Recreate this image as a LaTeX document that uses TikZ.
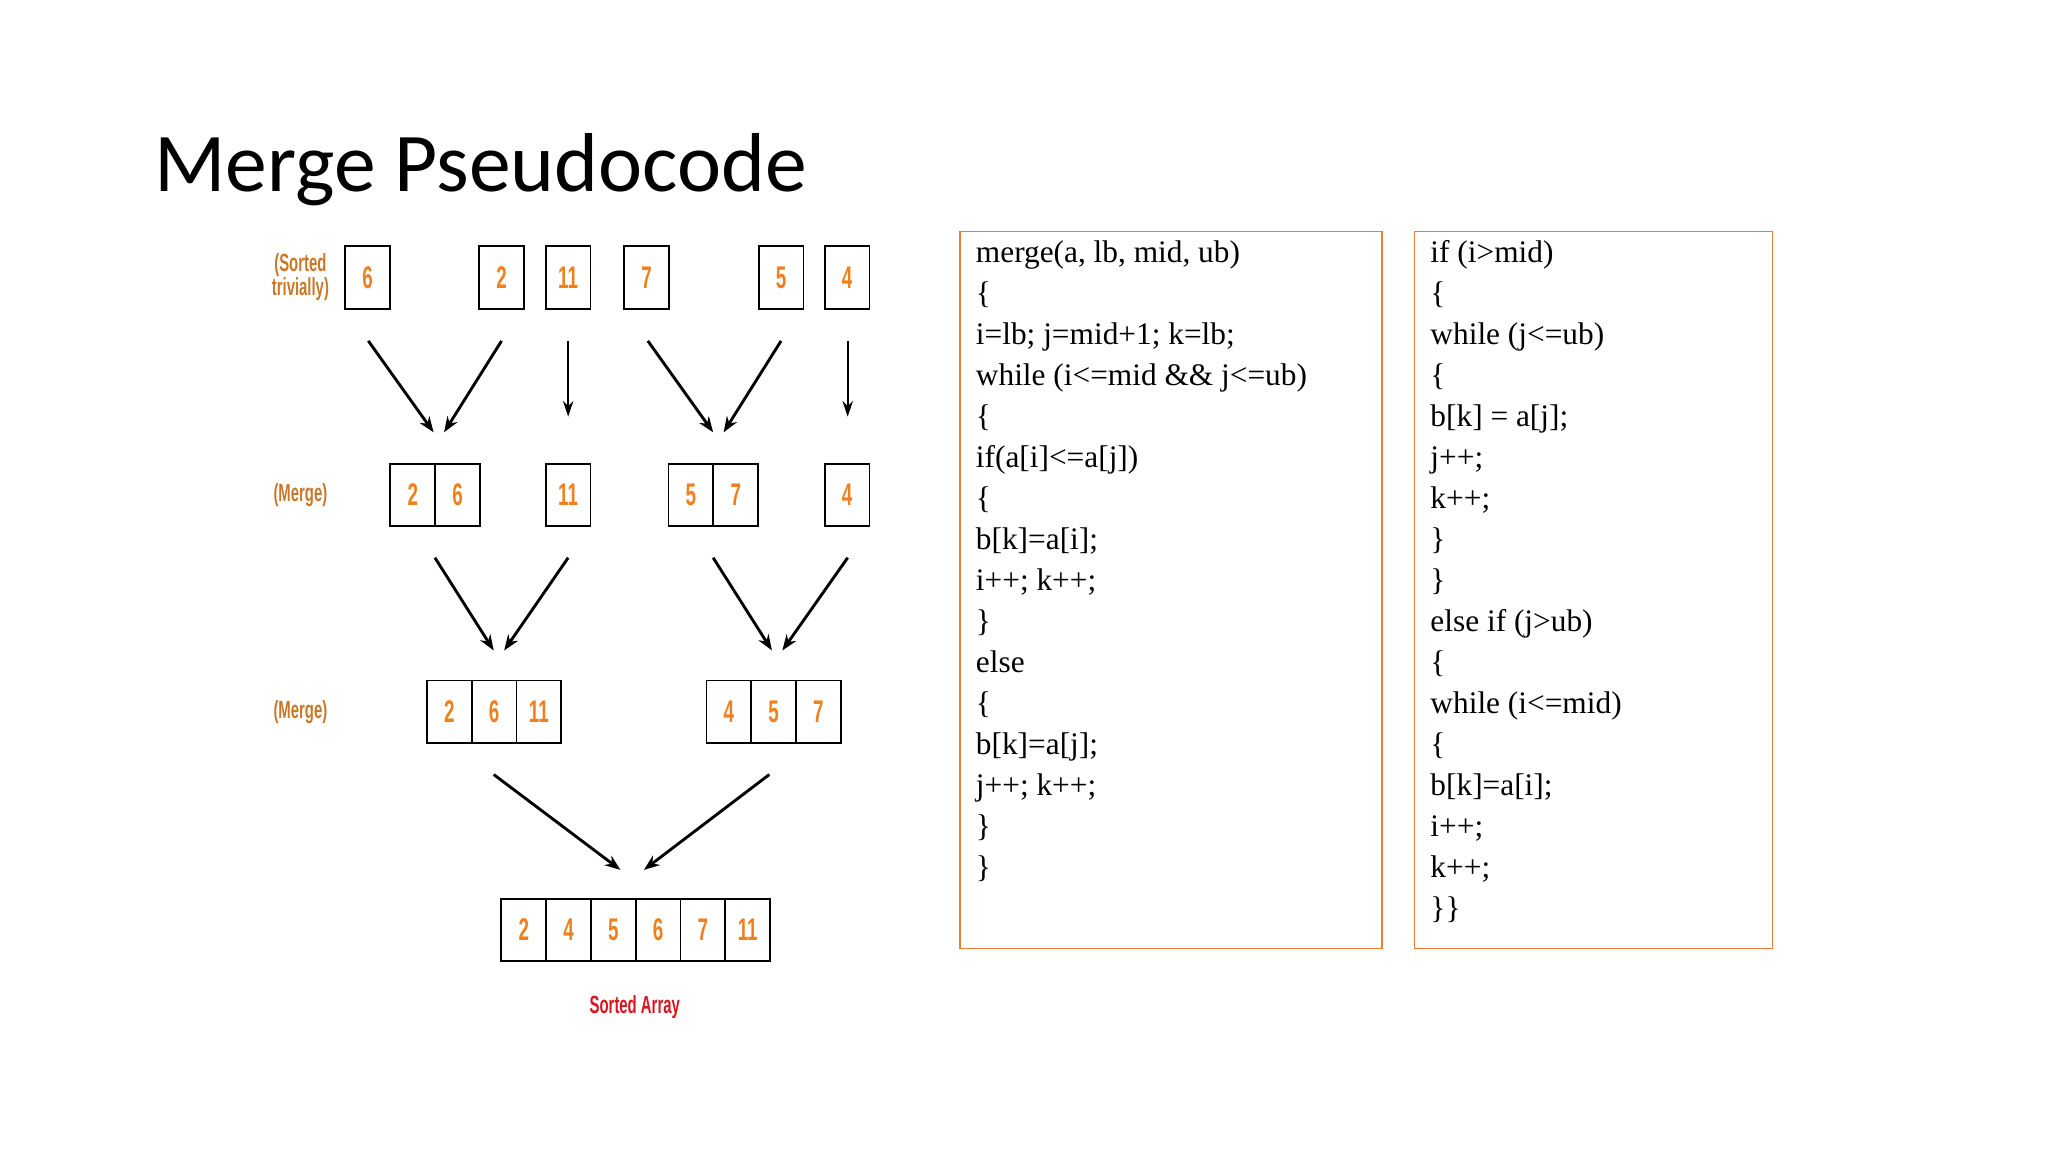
\documentclass[tikz,border=0pt]{standalone}
\usepackage{fontspec}
\setmainfont{Liberation Serif}
\newfontfamily\titlefont{Carlito}
\newfontfamily\labfont{Liberation Sans}
\usetikzlibrary{arrows.meta}
\definecolor{org}{RGB}{240,128,30}
\definecolor{lab}{RGB}{200,120,40}
\definecolor{boxor}{RGB}{237,125,49}
\definecolor{redlab}{RGB}{220,20,30}
\tikzset{
  cell/.style={draw,line width=1.4pt,minimum width=34.3pt,minimum height=48pt,inner sep=0pt,
    font=\labfont\bfseries\fontsize{24}{24}\selectfont,text=org,xscale=1},
  lbl/.style={font=\labfont\bfseries\fontsize{19}{20}\selectfont,text=lab,align=center,inner sep=0pt},
  arr/.style={line width=2.2pt,-{Stealth[length=12pt,width=9pt]}},
  codebox/.style={draw=boxor,line width=1pt},
  code/.style={anchor=north west,align=left,inner sep=0pt,font=\fontsize{24}{31.4}\selectfont}
}
\newcommand{\cellat}[4]{\node[cell] (#1) at (#2,-#3) {\scalebox{0.6}[1]{#4}};}
\begin{document}
\begin{tikzpicture}[x=1pt,y=1pt]
\useasboundingbox (0,0) rectangle (1568,-882);
\node[anchor=west,font=\titlefont\fontsize{64}{70}\selectfont,inner sep=0pt] (title) at (118,-130) {Merge Pseudocode};
% row 1
\cellat{a1}{281.5}{212.5}{6}
\cellat{a2}{384}{212.5}{2}
\cellat{a3}{435}{212.5}{11}
\cellat{a4}{495}{212.5}{7}
\cellat{a5}{598}{212.5}{5}
\cellat{a6}{648.5}{212.5}{4}
% row 2
\cellat{b1}{316}{379}{2}
\cellat{b2}{350.3}{379}{6}
\cellat{b3}{435}{379}{11}
\cellat{b4}{529}{379}{5}
\cellat{b5}{563.3}{379}{7}
\cellat{b6}{648.5}{379}{4}
% row 3
\cellat{c1}{344}{545}{2}
\cellat{c2}{378.3}{545}{6}
\cellat{c3}{412.6}{545}{11}
\cellat{c4}{558}{545}{4}
\cellat{c5}{592.3}{545}{5}
\cellat{c6}{626.6}{545}{7}
% row 4
\cellat{d1}{401}{712}{2}
\cellat{d2}{435.3}{712}{4}
\cellat{d3}{469.6}{712}{5}
\cellat{d4}{503.9}{712}{6}
\cellat{d5}{538.2}{712}{7}
\cellat{d6}{572.5}{712}{11}
% labels
\node[lbl] (l1) at (230,-212) {\scalebox{0.6}[1]{(Sorted}\\[-2pt]\scalebox{0.6}[1]{trivially)}};
\node[lbl] (l2) at (230,-379) {\scalebox{0.6}[1]{(Merge)}};
\node[lbl] (l3) at (230,-545) {\scalebox{0.6}[1]{(Merge)}};
\node[lbl,text=redlab] (l4) at (486,-771) {\scalebox{0.6}[1]{Sorted Array}};
% arrow coordinates
\coordinate (p1) at (282,-261); \coordinate (q1) at (332,-331);
\coordinate (p2) at (384,-261); \coordinate (q2) at (340,-331);
\coordinate (p3) at (435,-261); \coordinate (q3) at (435,-319);
\coordinate (p4) at (496,-261); \coordinate (q4) at (546,-331);
\coordinate (p5) at (598,-261); \coordinate (q5) at (554,-331);
\coordinate (p6) at (649,-261); \coordinate (q6) at (649,-319);
\coordinate (r1) at (333,-427); \coordinate (s1) at (378,-498);
\coordinate (r2) at (435,-427); \coordinate (s2) at (386,-498);
\coordinate (r3) at (546,-427); \coordinate (s3) at (591,-498);
\coordinate (r4) at (649,-427); \coordinate (s4) at (599,-498);
\coordinate (t1) at (378,-593); \coordinate (u1) at (475,-666);
\coordinate (t2) at (589,-593); \coordinate (u2) at (493,-666);
\foreach \a/\b in {p1/q1,p2/q2,p4/q4,p5/q5,r1/s1,r2/s2,r3/s3,r4/s4,t1/u1,t2/u2}
  \draw[arr] (\a) -- (\b);
\foreach \a/\b in {p3/q3,p6/q6}
  \draw[line width=1.5pt,-{Stealth[length=12pt,width=8pt]}] (\a) -- (\b);
% code boxes
\draw[codebox] (735,-177) rectangle (1058,-726);
\draw[codebox] (1083,-177) rectangle (1357,-726);
\node[code] (code1) at (747,-184) {merge(a, lb, mid, ub)\\ \{\\ i=lb; j=mid+1; k=lb;\\ while (i<=mid \&\& j<=ub)\\ \{\\ if(a[i]<=a[j])\\ \{\\ b[k]=a[i];\\ i++; k++;\\ \}\\ else\\ \{\\ b[k]=a[j];\\ j++; k++;\\ \}\\ \}};
\node[code] (code2) at (1095,-184) {if (i>mid)\\ \{\\ while (j<=ub)\\ \{\\ b[k] = a[j];\\ j++;\\ k++;\\ \}\\ \}\\ else if (j>ub)\\ \{\\ while (i<=mid)\\ \{\\ b[k]=a[i];\\ i++;\\ k++;\\ \}\}};
\end{tikzpicture}
\end{document}
